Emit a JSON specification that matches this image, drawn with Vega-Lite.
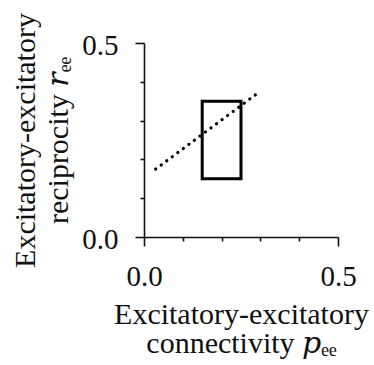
{
  "$schema": "https://vega.github.io/schema/vega-lite/v6.json",
  "width": 194,
  "height": 194,
  "autosize": {"type": "none"},
  "padding": {"left": 144, "top": 43, "right": 36, "bottom": 128},
  "background": "white",
  "config": {
    "view": {"stroke": null},
    "font": "Liberation Serif, DejaVu Serif, serif",
    "axis": {
      "grid": false,
      "domainColor": "#111",
      "domainWidth": 1.6,
      "tickColor": "#111",
      "tickWidth": 1.6,
      "labelFont": "Liberation Serif, DejaVu Serif, serif",
      "labelFontSize": 29,
      "labelColor": "#111",
      "titleFont": "Liberation Serif, DejaVu Serif, serif",
      "titleFontSize": 30,
      "titleFontWeight": "normal",
      "titleColor": "#111"
    }
  },
  "datasets": {
    "trend": [
      {"p": 0.03, "r": 0.175},
      {"p": 0.30, "r": 0.376}
    ],
    "box": [
      {"p": 0.15, "p2": 0.25, "r": 0.15, "r2": 0.35}
    ]
  },
  "resolve": {"axis": {"x": "independent", "y": "independent"}},
  "layer": [
    {
      "data": {"name": "trend"},
      "mark": {"type": "line", "color": "#000", "strokeWidth": 3.2, "strokeCap": "round", "strokeDash": [0.1, 6.8]},
      "encoding": {
        "x": {
          "field": "p", "type": "quantitative",
          "scale": {"domain": [0, 0.5], "nice": false, "zero": false},
          "axis": {
            "orient": "bottom",
            "values": [0, 0.5],
            "format": ".1f",
            "tickSize": 9,
            "labelPadding": 16,
            "labelFlush": false,
            "labelOverlap": false,
            "title": ["Excitatory-excitatory", "connectivity 𝑝ₑₑ"],
            "titleBaseline": "alphabetic",
            "titleY": 86,
            "titleLineHeight": 29
          }
        },
        "y": {
          "field": "r", "type": "quantitative",
          "scale": {"domain": [0, 0.5], "nice": false, "zero": false},
          "axis": {
            "orient": "left",
            "values": [0, 0.5],
            "format": ".1f",
            "tickSize": 9,
            "labelPadding": 17,
            "labelFlush": false,
            "labelOverlap": false,
            "labelOffset": 2,
            "title": ["Excitatory-excitatory", "reciprocity 𝑟ₑₑ"],
            "titleBaseline": "alphabetic",
            "titleX": -110,
            "titleLineHeight": 33
          }
        }
      }
    },
    {
      "data": {"name": "box"},
      "mark": {"type": "rect", "filled": false, "stroke": "#000", "strokeWidth": 3},
      "encoding": {
        "x": {
          "field": "p", "type": "quantitative",
          "scale": {"domain": [0, 0.5], "nice": false, "zero": false},
          "axis": {"orient": "bottom", "values": [0.1, 0.2, 0.3, 0.4], "tickSize": 4, "labels": false, "domain": false, "title": null}
        },
        "x2": {"field": "p2"},
        "y": {
          "field": "r", "type": "quantitative",
          "scale": {"domain": [0, 0.5], "nice": false, "zero": false},
          "axis": {"orient": "left", "values": [0.1, 0.2, 0.3, 0.4], "tickSize": 4, "labels": false, "domain": false, "title": null}
        },
        "y2": {"field": "r2"}
      }
    }
  ]
}
